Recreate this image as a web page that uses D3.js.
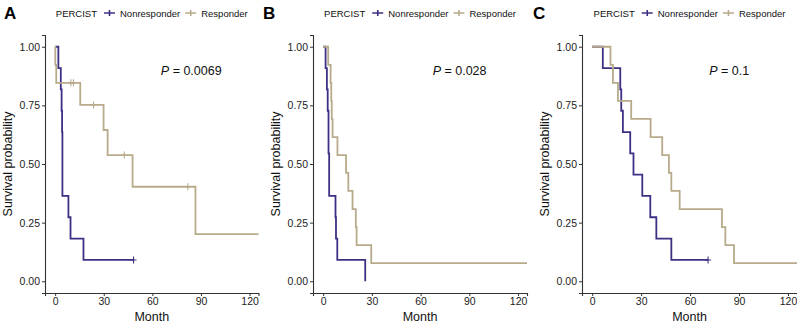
<!DOCTYPE html>
<html>
<head>
<meta charset="utf-8">
<script src="https://cdn.jsdelivr.net/npm/d3@7"></script>
<style>
  body { margin: 0; background: #fff; }
  svg { display: block; font-family: "Liberation Sans", Arial, sans-serif; }
  .axis path, .axis line { stroke: #333; }
  .axis text { fill: #222; font-size: 10.5px; font-family: "Liberation Sans", Arial, sans-serif; }
</style>
</head>
<body>
<div id="chart"></div>
<script>
var monthTicks = [0, 30, 60, 90, 120];
var survTicks = [0, 0.25, 0.5, 0.75, 1];
var groups = ["Nonresponder", "Responder"];
var colors = ["#3f2f84", "#b8ab8b"];

// panel A
var aNonTime = [0, 2, 3.5, 4, 4.3, 4.5, 8.2, 9.5, 17.5, 48.4];
var aNonSurv = [1, 0.909, 0.818, 0.727, 0.636, 0.364, 0.273, 0.182, 0.091, 0.091];
var aNonCens = [48.4];
var aResTime = [0, 0.1, 0.7, 15.5, 29.9, 32.4, 47.8, 86.6, 125.5];
var aResSurv = [1, 0.923, 0.846, 0.752, 0.645, 0.538, 0.403, 0.201, 0.201];
var aResCens = [9.7, 11.3, 23.7, 42.7, 81.9];

// panel B
var bNonTime = [0, 1.5, 2.3, 2.8, 3.3, 3.7, 7.6, 7.9, 8.7, 25.9];
var bNonSurv = [1, 0.909, 0.818, 0.727, 0.545, 0.364, 0.273, 0.182, 0.091, 0];
var bNonCens = [];
var bResTime = [0, 3.1, 4.6, 5.0, 5.3, 5.8, 8.8, 14.1, 15.5, 18.1, 20.1, 20.6, 29.6, 125.5];
var bResSurv = [1, 0.923, 0.846, 0.769, 0.692, 0.615, 0.538, 0.462, 0.385, 0.308, 0.231, 0.154, 0.077, 0.077];
var bResCens = [];

// panel C
var cNonTime = [0, 6.5, 17.2, 17.8, 18.8, 23.3, 25.3, 30.7, 35.6, 39.3, 48.5, 71];
var cNonSurv = [1, 0.909, 0.818, 0.727, 0.636, 0.545, 0.455, 0.364, 0.273, 0.182, 0.091, 0.091];
var cNonCens = [71];
var cResTime = [0, 11.2, 12.7, 15.8, 23.9, 35.8, 42.9, 47.0, 48.5, 53.6, 79.5, 81.6, 86.9, 125.5];
var cResSurv = [1, 0.923, 0.846, 0.769, 0.692, 0.615, 0.538, 0.462, 0.385, 0.308, 0.231, 0.154, 0.077, 0.077];
var cResCens = [];

var panels = [
  {letter: "A", p: "0.0069", left: 45, right: 258.5, letterX: 4,
   curves: [[aNonTime, aNonSurv, aNonCens], [aResTime, aResSurv, aResCens]]},
  {letter: "B", p: "0.028", left: 313, right: 527, letterX: 263,
   curves: [[bNonTime, bNonSurv, bNonCens], [bResTime, bResSurv, bResCens]]},
  {letter: "C", p: "0.1", left: 582, right: 797, letterX: 533,
   curves: [[cNonTime, cNonSurv, cNonCens], [cResTime, cResSurv, cResCens]]}
];

var W = 797, H = 324;
var plotTop = 35, plotBottom = 293;

var svg = d3.select("#chart").append("svg")
    .attr("width", W).attr("height", H);

var y = d3.scaleLinear().domain([-0.05, 1.05]).range([plotBottom, plotTop]);

function survAt(times, surv, t) {
  var s = surv[0];
  for (var i = 0; i < times.length; i++) { if (times[i] <= t) s = surv[i]; }
  return s;
}

panels.forEach(function(pn) {
  var x = d3.scaleLinear().domain([-6.25, 125.5]).range([pn.left, pn.right]);
  var g = svg.append("g");

  // axes
  g.append("g")
      .attr("class", "axis")
      .attr("transform", "translate(0," + plotBottom + ")")
      .call(d3.axisBottom(x).tickValues(monthTicks).tickSizeOuter(0).tickSize(3).tickPadding(2))
      .call(function(a) { a.select(".domain").attr("stroke-width", 1.1); });

  g.append("g")
      .attr("class", "axis")
      .attr("transform", "translate(" + pn.left + ",0)")
      .call(d3.axisLeft(y).tickValues(survTicks).tickFormat(d3.format(".2f")).tickSizeOuter(0).tickSize(3).tickPadding(2))
      .call(function(a) { a.select(".domain").attr("stroke-width", 1.1); });

  // axis titles
  g.append("text")
      .attr("x", (pn.left + pn.right) / 2)
      .attr("y", 321)
      .attr("text-anchor", "middle")
      .style("font-size", "12.5px")
      .style("fill", "#111")
      .text("Month");

  g.append("text")
      .attr("transform", "translate(" + (pn.left - 33) + "," + ((plotTop + plotBottom) / 2) + ") rotate(-90)")
      .attr("text-anchor", "middle")
      .style("font-size", "12.5px")
      .style("fill", "#111")
      .text("Survival probability");

  // curves
  var line = d3.line()
      .x(function(d) { return x(d[0]); })
      .y(function(d) { return y(d[1]); })
      .curve(d3.curveStepAfter);

  pn.curves.forEach(function(c, gi) {
    var pts = c[0].map(function(t, i) { return [t, c[1][i]]; });
    g.append("path")
        .datum(pts)
        .attr("d", line)
        .attr("fill", "none")
        .attr("stroke", colors[gi])
        .attr("stroke-width", 1.8);

    g.selectAll(".cens" + gi)
        .data(c[2])
        .enter().append("path")
        .attr("class", "cens" + gi)
        .attr("d", function(t) {
          var cx = x(t), cy = y(survAt(c[0], c[1], t));
          return "M" + (cx - 3) + "," + cy + "h6M" + cx + "," + (cy - 3.5) + "v7";
        })
        .attr("stroke", colors[gi])
        .attr("stroke-width", 1.1);
  });

  // p value
  var pt = g.append("text")
      .attr("x", x(84))
      .attr("y", y(0.878))
      .attr("text-anchor", "middle")
      .style("font-size", "12.5px")
      .style("fill", "#111");
  pt.append("tspan").style("font-style", "italic").text("P");
  pt.append("tspan").text(" = " + pn.p);

  // panel letter
  g.append("text")
      .attr("x", pn.letterX)
      .attr("y", 19)
      .style("font-size", "17px")
      .style("font-weight", "bold")
      .style("fill", "#000")
      .text(pn.letter);

  // legend
  var lg = g.append("g");
  var cx = 0;
  var t0 = lg.append("text").attr("x", cx).attr("y", 16.5)
      .style("font-size", "9.5px").style("fill", "#111").text("PERCIST");
  cx += t0.node().getComputedTextLength() + 7;
  groups.forEach(function(name, gi) {
    lg.append("path")
        .attr("d", "M" + cx + ",13h11M" + (cx + 5.5) + ",10v6")
        .attr("stroke", colors[gi])
        .attr("stroke-width", 1.6);
    cx += 11 + 5;
    var tt = lg.append("text").attr("x", cx).attr("y", 16.5)
        .style("font-size", "9.5px").style("fill", "#111").text(name);
    cx += tt.node().getComputedTextLength() + 5;
  });
  cx -= 5;
  lg.attr("transform", "translate(" + ((pn.left + pn.right) / 2 - cx / 2) + ",0)");
});
</script>
</body>
</html>
